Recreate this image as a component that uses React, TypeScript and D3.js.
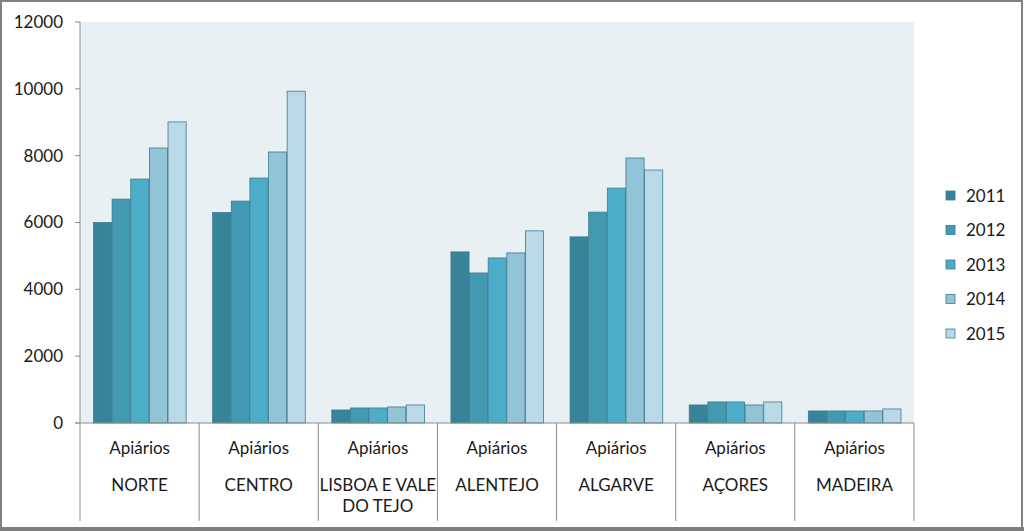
import React from "react";
import * as d3 from "d3";

const categories = ["NORTE", "CENTRO", "LISBOA E VALE DO TEJO", "ALENTEJO", "ALGARVE", "AÇORES", "MADEIRA"];
const categoryLines = [["NORTE"], ["CENTRO"], ["LISBOA E VALE", "DO TEJO"], ["ALENTEJO"], ["ALGARVE"], ["AÇORES"], ["MADEIRA"]];
const years = ["2011", "2012", "2013", "2014", "2015"];
const s2011 = [6000, 6300, 390, 5120, 5570, 540, 360];
const s2012 = [6700, 6640, 450, 4490, 6310, 630, 360];
const s2013 = [7300, 7330, 450, 4940, 7030, 630, 360];
const s2014 = [8230, 8110, 480, 5090, 7930, 540, 360];
const s2015 = [9010, 9930, 540, 5750, 7570, 630, 420];
const series = [s2011, s2012, s2013, s2014, s2015];
const yTicks = [0, 2000, 4000, 6000, 8000, 10000, 12000];
const colors = ["#37839a", "#4299b2", "#4badc7", "#93c3d6", "#b9d9e6"];

export default function App() {
  const W = 1024, H = 531;
  const left = 80, right = 914, top = 22, bottom = 423;
  const x0 = d3.scaleBand().domain(categories).range([left, right]).paddingInner(0).paddingOuter(0);
  const bw = x0.bandwidth();
  const groupPad = 13;
  const x1 = d3.scaleBand().domain(years).range([groupPad, bw - groupPad]).padding(0);
  const y = d3.scaleLinear().domain([0, 12000]).range([bottom, top]);
  const font = "Lato, sans-serif";
  const fs = 17;
  return (
    <svg width={W} height={H} style={{ position: "absolute", left: 0, top: 0, background: "#fff" }} fontFamily={font}>
      <rect x={1} y={1} width={W - 3} height={H - 4} fill="#fff" stroke="#7f7f7f" strokeWidth={2} />
      <rect x={0} y={527} width={W} height={4} fill="#7f7f7f" />
      <rect x={left} y={top} width={right - left} height={bottom - top} fill="#e9f0f3" />
      {categories.map((c, ci) =>
        series.map((s, si) => (
          <rect key={c + si} x={(x0(c) as number) + (x1(years[si]) as number) + 0.5} y={y(s[ci])}
            width={x1.bandwidth() - 0.5} height={bottom - y(s[ci])} fill={colors[si]} stroke="#3b7c8e" strokeWidth={0.8} />
        ))
      )}
      <line x1={left} x2={left} y1={top} y2={bottom} stroke="#8c8c8c" />
      <line x1={left - 5} x2={right} y1={bottom} y2={bottom} stroke="#8c8c8c" />
      {yTicks.map(t => (
        <g key={t}>
          <line x1={left - 5} x2={left} y1={y(t)} y2={y(t)} stroke="#8c8c8c" />
          <text x={63} y={y(t)} dy="0.35em" textAnchor="end" fontSize={fs} fill="#1a1a1a">{t}</text>
        </g>
      ))}
      {[...categories.map(c => x0(c) as number), right].map((xv, i) => (
        <line key={i} x1={xv} x2={xv} y1={bottom} y2={521} stroke="#8c8c8c" />
      ))}
      {categories.map((c, ci) => {
        const cx = (x0(c) as number) + bw / 2;
        return (
          <g key={c}>
            <text x={cx} y={448} dy="0.35em" textAnchor="middle" fontSize={fs} fill="#1a1a1a">Apiários</text>
            {categoryLines[ci].map((l, li) => (
              <text key={li} x={cx} y={485 + li * 21} dy="0.35em" textAnchor="middle" fontSize={fs} fill="#1a1a1a">{l}</text>
            ))}
          </g>
        );
      })}
      {years.map((yr, i) => (
        <g key={yr}>
          <rect x={946} y={191 + i * 34.5} width={9} height={9} fill={colors[i]} stroke="#3b7c8e" strokeWidth={0.8} />
          <text x={966} y={196 + i * 34.5} dy="0.35em" fontSize={fs} fill="#1a1a1a">{yr}</text>
        </g>
      ))}
    </svg>
  );
}
